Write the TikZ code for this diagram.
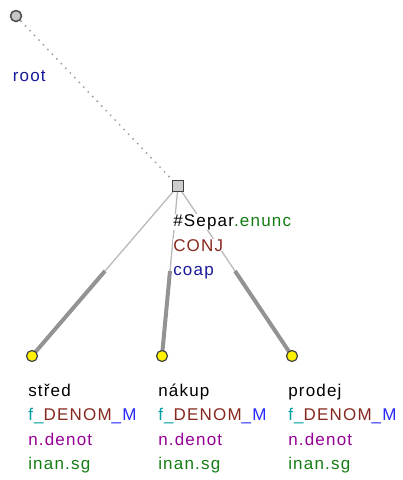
\documentclass[tikz,border=0pt]{standalone}
\usepackage{fontspec}
\usetikzlibrary{calc}
\setmainfont{Liberation Sans}[LetterSpace=7.0]
\definecolor{cteal}{RGB}{0,160,160}
\definecolor{cbrown}{RGB}{135,40,30}
\definecolor{cblue}{RGB}{40,40,250}
\definecolor{cpurple}{RGB}{150,0,150}
\definecolor{cgreen}{RGB}{20,125,20}
\definecolor{cdblue}{RGB}{25,25,155}
\tikzset{
  lbl/.style={anchor=base west, inner sep=0.3pt, outer sep=0pt, fill=white, font=\fontsize{17}{20}\selectfont},
  rootdot/.style={circle, minimum size=11pt, inner sep=0pt, fill=gray!45, draw=gray!60!black, line width=1.5pt},
  leafdot/.style={circle, minimum size=11pt, inner sep=0pt, fill=yellow, draw=black!75, line width=1.2pt},
  sq/.style={rectangle, minimum size=11pt, inner sep=0pt, fill=gray!40, draw=gray!50!black, line width=1.2pt},
  thinedge/.style={draw=gray!55, line width=1.3pt},
  thickedge/.style={draw=gray!85, line width=4pt},
  rootedge/.style={draw=gray!75, line width=1.5pt, dash pattern=on 1.5pt off 5pt}
}
\begin{document}
\begin{tikzpicture}[x=1pt,y=-1pt]
\useasboundingbox (0,0) rectangle (403,480);
% node positions
\coordinate (r) at (16,16);
\coordinate (s) at (178,186);
\coordinate (l1) at (32,356);
\coordinate (l2) at (162,356);
\coordinate (l3) at (292,356);
% edges
\draw[rootedge] (r) -- (s);
\foreach \l in {l1,l2,l3} {
  \draw[thinedge] (s) -- (\l);
  \draw[thickedge] ($(s)!0.5!(\l)$) -- (\l);
}
% labels
\node[lbl, text=cdblue] (rootlbl) at (12.5,81) {root};
\node[lbl] (s1) at (173,226) {\#Separ\textcolor{cgreen}{.enunc}};
\node[lbl, text=cbrown] (s2) at (173,251) {CONJ};
\node[lbl, text=cdblue] (s3) at (173,275.5) {coap};
\foreach \x/\w/\n in {28/střed/a,158/nákup/b,288/prodej/c} {
  \node[lbl] (\n1) at (\x,396) {\w};
  \node[lbl] (\n2) at (\x,420.5) {\textcolor{cteal}{f\_}\textcolor{cbrown}{DENOM}\textcolor{cblue}{\_M}};
  \node[lbl, text=cpurple] (\n3) at (\x,445) {n.denot};
  \node[lbl, text=cgreen] (\n4) at (\x,469.5) {inan.sg};
}
% dots
\node[rootdot] (root) at (r) {};
\node[sq] (sep) at (s) {};
\node[leafdot] (stred) at (l1) {};
\node[leafdot] (nakup) at (l2) {};
\node[leafdot] (prodej) at (l3) {};
\end{tikzpicture}
\end{document}
